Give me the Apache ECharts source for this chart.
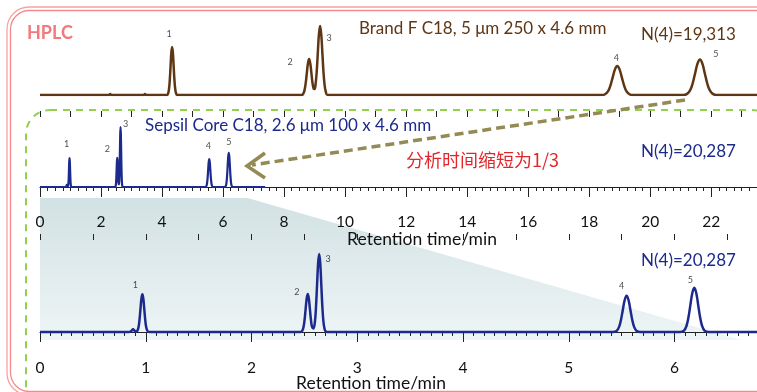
<!DOCTYPE html>
<html>
<head>
<meta charset="utf-8">
<script src="https://cdn.jsdelivr.net/npm/echarts@6/dist/echarts.min.js"></script>
<style>
    html, body {margin: 0; padding: 0; background: #fff;}
    #main {width: 757px; height: 392px;}
</style>
</head>
<body>
<div id="main"></div>
<script>
// Brand F C18, 5 um 250 x 4.6 mm  -- [time/min, signal]
var brandTrace = [
    [0, 0], [2.26, 0], [2.3, 1], [2.34, 0], [3.4, 0], [3.44, 1], [3.48, 0],
    [4.16, 0], [4.20, 1.6], [4.23, 6.5], [4.255, 15.6], [4.28, 29.1], [4.305, 42.3], [4.33, 48],
    [4.355, 42.3], [4.38, 29.1], [4.405, 15.6], [4.43, 6.5], [4.46, 1.6], [4.50, 0],
    [8.58, 0], [8.63, 1.5], [8.67, 4.9], [8.71, 12.3], [8.745, 21.8], [8.78, 31.2], [8.82, 36],
    [8.86, 31.2], [8.895, 21.9], [8.93, 12.5], [8.97, 6.2], [9.0, 5.9], [9.03, 10], [9.07, 23.6],
    [9.105, 41.9], [9.14, 59.8], [9.18, 69], [9.22, 59.8], [9.255, 41.9], [9.29, 23.5], [9.33, 9.3],
    [9.37, 2.8], [9.42, 0],
    [18.42, 0], [18.52, 0.8], [18.62, 3.9], [18.695, 9.4], [18.77, 17.6], [18.845, 25.6], [18.92, 29],
    [18.995, 25.6], [19.07, 17.6], [19.145, 9.4], [19.22, 3.9], [19.32, 0.8], [19.42, 0],
    [21.08, 0], [21.21, 1.1], [21.31, 4.8], [21.39, 11.5], [21.47, 21.5], [21.55, 31.3], [21.63, 35.5],
    [21.71, 31.3], [21.79, 21.5], [21.87, 11.5], [21.95, 4.8], [22.05, 1.1], [22.18, 0],
    [23.5, 0]
];
var brandPeakTimes = [4.33, 8.82, 9.18, 18.92, 21.63];
var brandPeakHeights = [48, 36, 69, 29, 35.5];

// Sepsil Core C18, 2.6 um 100 x 4.6 mm
var sepsilTrace = [
    [0, 0], [0.84, 0], [0.865, 1.2], [0.88, 2.7], [0.895, 1.2], [0.91, 0.4],
    [0.92, 1.1], [0.932, 5.1], [0.941, 12.3], [0.95, 22.9], [0.959, 33.3], [0.968, 37.7],
    [0.977, 33.3], [0.986, 22.9], [0.995, 12.3], [1.004, 5.1], [1.016, 1.1], [1.035, 0],
    [2.46, 0], [2.479, 1.1], [2.492, 5.1], [2.502, 12.3], [2.512, 23.1], [2.522, 33.5], [2.532, 38],
    [2.542, 33.5], [2.552, 23.1], [2.562, 12.3], [2.572, 5.3], [2.586, 3.5], [2.60, 10.6], [2.61, 25.3],
    [2.62, 47.3], [2.63, 68.8], [2.64, 78], [2.65, 68.8], [2.66, 47.3], [2.67, 25.3], [2.68, 10.5],
    [2.69, 3.4], [2.70, 0.9], [2.72, 0],
    [5.417, 0], [5.452, 1.1], [5.475, 4.9], [5.493, 11.8], [5.511, 22], [5.529, 32], [5.547, 36.3],
    [5.565, 32], [5.583, 22], [5.601, 11.8], [5.619, 4.9], [5.642, 1.1], [5.677, 0],
    [6.052, 0], [6.09, 1.4], [6.113, 6], [6.1315, 14.4], [6.15, 26.9], [6.1685, 39.1], [6.187, 44.3],
    [6.2055, 39.1], [6.224, 26.9], [6.2425, 14.4], [6.261, 6], [6.284, 1.4], [6.322, 0],
    [7.38, 0]
];
var sepsilPeakTimes = [0.968, 2.532, 2.64, 5.547, 6.187];
var sepsilPeakHeights = [37.7, 38, 78, 36.3, 44.3];

var peakNames = ['1', '2', '3', '4', '5'];
var longAxisMax = 23.5;   // min, 250 mm column
var shortAxisMax = 6.78;  // min, 100 mm column

var BROWN = '#5f3614', NAVY = '#1b2a8c';
var latin = 'Lato, "Open Sans", sans-serif';

var myChart = echarts.init(document.getElementById('main'), null, {renderer: 'canvas'});

function peakLabels(times, heights, offsets, xi, yi) {
    var data = [];
    for (var i = 0; i < times.length; i++) {
        data.push({
            value: [times[i], heights[i]],
            label: {offset: offsets[i]}
        });
    }
    return {
        type: 'scatter', xAxisIndex: xi, yAxisIndex: yi, symbolSize: 1,
        itemStyle: {color: 'rgba(0,0,0,0)'},
        label: {
            show: true, position: 'inside', color: '#222', fontSize: 9, fontFamily: latin,
            formatter: function (p) { return peakNames[p.dataIndex]; }
        },
        data: data, z: 5
    };
}

function tickAxis(grid, max, interval, len) {
    return {
        type: 'value', gridIndex: grid, min: 0, max: max, interval: interval,
        axisLine: {show: false}, axisLabel: {show: false}, splitLine: {show: false},
        axisTick: {show: true, length: len, lineStyle: {color: '#222', width: 1}}
    };
}

var option = {
    animation: false,
    backgroundColor: '#fff',
    grid: [
        {left: 40, right: 0, top: 20, height: 75},
        {left: 40, right: 0, top: 117, height: 80},
        {left: 40, right: 0, top: 240, height: 103}
    ],
    xAxis: [
        {type: 'value', gridIndex: 0, min: 0, max: longAxisMax, show: false},
        {
            type: 'value', gridIndex: 1, min: 0, max: longAxisMax, interval: 2,
            axisLine: {lineStyle: {color: '#222', width: 1}},
            axisTick: {length: 10, lineStyle: {color: '#222'}},
            minorTick: {show: true, splitNumber: 8, length: 4, lineStyle: {color: '#222'}},
            splitLine: {show: false},
            axisLabel: {color: '#111', fontSize: 15.5, fontFamily: latin, margin: 17, showMaxLabel: false}
        },
        tickAxis(1, longAxisMax, 1, 6),
        {
            type: 'value', gridIndex: 2, min: 0, max: shortAxisMax, interval: 1,
            axisLine: {lineStyle: {color: '#222', width: 1}},
            axisTick: {length: 10, lineStyle: {color: '#222'}},
            minorTick: {show: true, splitNumber: 10, length: 4, lineStyle: {color: '#222'}},
            splitLine: {show: false},
            axisLabel: {color: '#111', fontSize: 15.5, fontFamily: latin, margin: 17, showMaxLabel: false}
        },
        tickAxis(2, shortAxisMax, 0.5, 6)
    ],
    yAxis: [
        {type: 'value', gridIndex: 0, min: 0, max: 75, show: false},
        {type: 'value', gridIndex: 1, min: -13, max: 91, show: false},
        {type: 'value', gridIndex: 2, min: -11, max: 92, show: false}
    ],
    series: [
        {
            type: 'line', xAxisIndex: 0, yAxisIndex: 0, data: brandTrace, symbol: 'none', smooth: 0.4,
            lineStyle: {color: BROWN, width: 2.5}, z: 3
        },
        {
            type: 'line', xAxisIndex: 1, yAxisIndex: 1, data: sepsilTrace, symbol: 'none', smooth: 0.4,
            lineStyle: {color: NAVY, width: 2.2}, z: 3
        },
        {
            type: 'line', xAxisIndex: 3, yAxisIndex: 2, data: sepsilTrace, symbol: 'none', smooth: 0.4,
            lineStyle: {color: NAVY, width: 2.5}, z: 3
        },
        peakLabels(brandPeakTimes, brandPeakHeights, [[-3, -13], [-19, 3], [9, 12], [-1, -8], [16, -5]], 0, 0),
        peakLabels(sepsilPeakTimes, sepsilPeakHeights, [[-3, -14], [-10, -9], [5, -3], [-1, -13], [0, -11]], 1, 1),
        peakLabels(sepsilPeakTimes, sepsilPeakHeights, [[-7, -9], [-11, -2], [9, 5], [-5, -10], [-4, -8]], 3, 2)
    ]
};
myChart.setOption(option);

// zoom shading: from the start of the short run on the long axis down to the short axis
var p0 = myChart.convertToPixel({gridIndex: 1}, [0, -13]);
var p1 = myChart.convertToPixel({gridIndex: 1}, [6.8, -13]);
var p2 = myChart.convertToPixel({gridIndex: 2}, [6.63, -8]);
var p3 = myChart.convertToPixel({gridIndex: 2}, [0, -8]);

function txt(x, y, s, font, color, align) {
    return {
        type: 'text', x: x, y: y, z: 10,
        style: {text: s, font: font, fill: color, align: align || 'left', verticalAlign: 'middle'}
    };
}

myChart.setOption({
    graphic: [
        {
            type: 'polygon', z: -1, silent: true,
            shape: {points: [[p0[0], p0[1] + 1], [p1[0], p1[1] + 1], p2, p3]},
            style: {
                fill: new echarts.graphic.LinearGradient(0, 0, 0, 1, [
                    {offset: 0, color: '#d2e1e3'},
                    {offset: 1, color: '#eef5f6'}
                ])
            }
        },
        {type: 'rect', shape: {x: 7, y: 7, width: 800, height: 388, r: 22},
            style: {fill: 'none', stroke: '#f7a3a4', lineWidth: 1.3}},
        {type: 'rect', shape: {x: 10.5, y: 10.5, width: 794, height: 381, r: 19},
            style: {fill: 'none', stroke: '#f58a8c', lineWidth: 1.3}},
        {type: 'rect', shape: {x: 26, y: 110, width: 750, height: 320, r: 24},
            style: {fill: 'none', stroke: '#92d050', lineWidth: 2, lineDash: [7, 6]}},
        {type: 'line', z: 8, shape: {x1: 685, y1: 100, x2: 252, y2: 165},
            style: {stroke: '#948a54', lineWidth: 3.5, lineDash: [9, 5]}},
        {type: 'polyline', z: 8, shape: {points: [[265, 153], [247, 166], [265, 178]]},
            style: {stroke: '#948a54', lineWidth: 3.5, fill: 'none'}},
        txt(27, 33, 'HPLC', 'bold 18px ' + latin, '#f3797a'),
        txt(359, 29, 'Brand F C18, 5 \u03bcm 250 x 4.6 mm', '17px ' + latin, BROWN),
        txt(641, 35, 'N(4)=19,313', '17px ' + latin, BROWN),
        txt(145, 126, 'Sepsil Core C18, 2.6 \u03bcm 100 x 4.6 mm', '17px ' + latin, NAVY),
        txt(641, 152, 'N(4)=20,287', '17px ' + latin, NAVY),
        txt(406, 160, '分析时间缩短为1/3', '18px "Noto Sans CJK SC", sans-serif', '#e0262b'),
        txt(641, 261, 'N(4)=20,287', '17px ' + latin, NAVY),
        txt(422, 239, 'Retention time/min', '17.5px ' + latin, '#111', 'center'),
        txt(371, 383, 'Retention time/min', '17.5px ' + latin, '#111', 'center')
    ]
});

window.onresize = function () {
    myChart.resize();
};
</script>
</body>
</html>
